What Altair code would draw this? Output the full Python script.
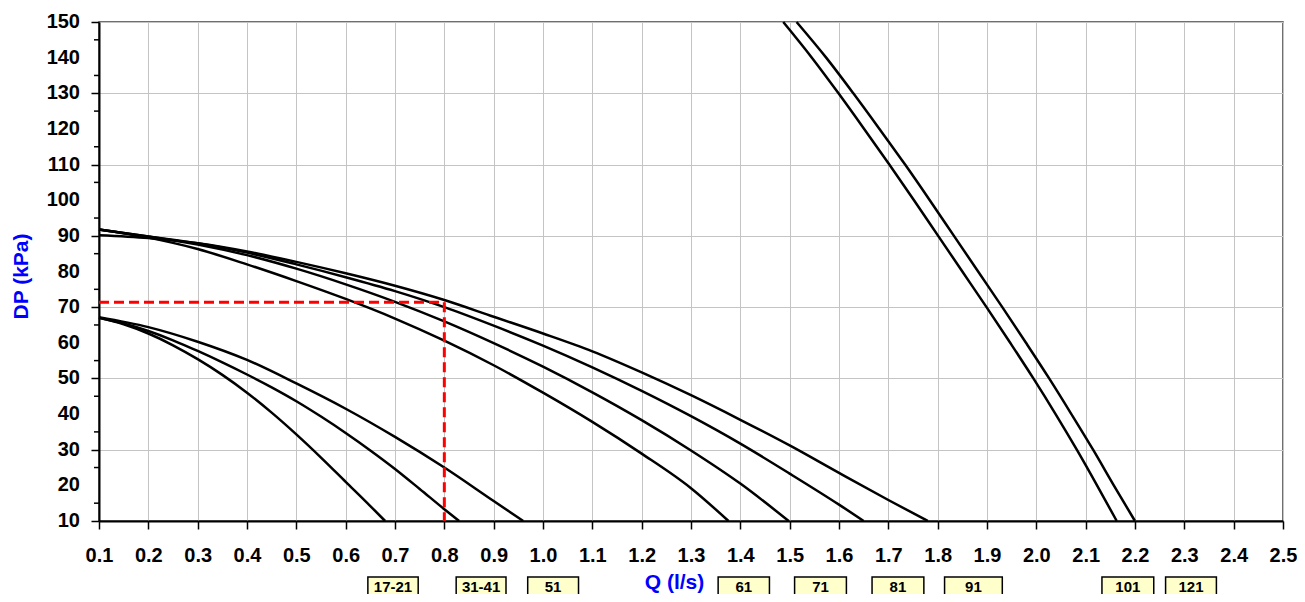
import altair as alt
import pandas as pd

# ---------------- data ----------------
q_1721 = [0.1, 0.15, 0.2, 0.25, 0.3, 0.35, 0.4, 0.45, 0.5, 0.55, 0.6, 0.65, 0.68]
dp_1721 = [67.0, 65.2, 62.6, 59.3, 55.4, 51.0, 46.0, 40.4, 34.3, 27.8, 21.0, 14.2, 10.0]

q_3141 = [0.1, 0.15, 0.2, 0.25, 0.3, 0.35, 0.4, 0.45, 0.5, 0.55, 0.6, 0.65, 0.7, 0.75, 0.8, 0.83]
dp_3141 = [67.0, 65.4, 63.3, 60.7, 57.7, 54.5, 51.1, 47.5, 43.6, 39.3, 34.7, 29.8, 24.6, 19.0, 13.3, 10.0]

q_51 = [0.1, 0.2, 0.3, 0.4, 0.5, 0.6, 0.7, 0.8, 0.9, 0.96]
dp_51 = [67.2, 64.4, 60.3, 55.2, 48.6, 41.5, 33.6, 25.0, 15.6, 10.0]

q_61 = [0.1, 0.2, 0.3, 0.4, 0.5, 0.6, 0.7, 0.8, 0.9, 1.0, 1.1, 1.2, 1.3, 1.376]
dp_61 = [91.8, 89.5, 86.3, 82.0, 77.3, 72.3, 66.8, 60.6, 53.7, 46.0, 37.8, 28.9, 19.2, 10.0]

q_71 = [0.1, 0.2, 0.3, 0.4, 0.5, 0.6, 0.7, 0.8, 0.9, 1.0, 1.1, 1.2, 1.3, 1.4, 1.498]
dp_71 = [91.8, 89.8, 87.6, 84.6, 80.8, 76.4, 71.5, 66.0, 59.9, 53.3, 46.1, 38.3, 29.8, 20.5, 10.0]

q_81 = [0.1, 0.2, 0.3, 0.4, 0.5, 0.6, 0.7, 0.8, 0.9, 1.0, 1.1, 1.2, 1.3, 1.4, 1.5, 1.6, 1.65]
dp_81 = [91.8, 89.8, 87.9, 85.3, 82.0, 78.4, 74.5, 70.0, 64.8, 59.2, 53.1, 46.5, 39.4, 31.7, 23.3, 14.6, 10.0]

q_91 = [0.1, 0.2, 0.3, 0.4, 0.5, 0.6, 0.7, 0.8, 0.9, 1.0, 1.1, 1.2, 1.3, 1.4, 1.5, 1.6, 1.7, 1.78]
dp_91 = [90.2, 89.4, 87.9, 85.6, 82.7, 79.5, 76.0, 72.0, 67.3, 62.6, 57.6, 51.7, 45.3, 38.4, 31.2, 23.5, 15.9, 10.0]

q_101 = [1.487, 1.545, 1.599, 1.651, 1.702, 1.752, 1.801, 1.850, 1.899, 1.947, 1.994, 2.039, 2.082, 2.123, 2.163]
dp_101 = [150, 140, 130, 120, 110, 100, 90, 80, 70, 60, 50, 40, 30, 20, 10]

q_121 = [1.514, 1.574, 1.629, 1.682, 1.734, 1.784, 1.833, 1.882, 1.931, 1.979, 2.026, 2.071, 2.115, 2.157, 2.200]
dp_121 = [150, 140, 130, 120, 110, 100, 90, 80, 70, 60, 50, 40, 30, 20, 10]

# duty point (red dashed guide)
guide_x = [0.1, 0.8]
guide_x2 = [0.8, 0.8]
guide_y = [71.4, 71.4]
guide_y2 = [71.4, 10.0]

# model label boxes under the axis
box_labels = ["17-21", "31-41", "51", "61", "71", "81", "91", "101", "121"]
box_left = [0.645, 0.824, 0.969, 1.355, 1.510, 1.667, 1.814, 2.133, 2.262]
box_right = [0.747, 0.925, 1.072, 1.459, 1.615, 1.772, 1.931, 2.238, 2.365]

x_tick_values = [round(0.1 + 0.05 * i, 2) for i in range(49)]
y_tick_values = list(range(10, 151, 10))
y_tick_labels = [str(v) for v in y_tick_values]
y_minor_values = list(range(15, 150, 10))

# ---------------- tables ----------------
series = [
    ("17-21", q_1721, dp_1721), ("31-41", q_3141, dp_3141), ("51", q_51, dp_51),
    ("61", q_61, dp_61), ("71", q_71, dp_71), ("81", q_81, dp_81), ("91", q_91, dp_91),
    ("101", q_101, dp_101), ("121", q_121, dp_121),
]
rows = []
for name, qs, dps in series:
    for q, dp in zip(qs, dps):
        rows.append({"curve": name, "q": q, "dp": dp})
curves_df = pd.DataFrame(rows)
guide_df = pd.DataFrame({"x": guide_x, "x2": guide_x2, "y": guide_y, "y2": guide_y2})
box_df = pd.DataFrame({"label": box_labels, "l": box_left, "r": box_right,
                       "c": [(a + b) / 2 for a, b in zip(box_left, box_right)]})
minor_df = pd.DataFrame({"v": y_minor_values})
ylab_df = pd.DataFrame({"v": y_tick_values, "t": y_tick_labels})

FONT = "Liberation Sans"
xscale = alt.Scale(domain=[0.1, 2.5], nice=False, zero=False)
yscale = alt.Scale(domain=[10, 150], nice=False, zero=False)

X_MAJOR = "abs(round(datum.value*20)) % 2 == 0"

x_axis = alt.Axis(
    values=x_tick_values,
    labelExpr=X_MAJOR + " ? format(datum.value, '.1f') : ''",
    grid=True, gridColor="#c4c4c4", gridWidth=1,
    tickColor="black", tickWidth=1.5,
    tickSize={"condition": {"test": X_MAJOR, "value": 8}, "value": 5},
    domainColor="black", domainWidth=2,
    labelFont=FONT, labelFontSize=20, labelFontWeight="bold", labelColor="black",
    labelPadding=16, labelOverlap=False, labelFlush=False, labelBound=False,
    title="Q (l/s)", titleFont=FONT, titleFontSize=21, titleFontWeight="bold",
    titleColor="#0000ff", titleX=575, titleY=61, titleAlign="center", titleBaseline="middle",
)
y_axis = alt.Axis(
    values=y_tick_values, labels=False,
    grid=True, gridColor="#c4c4c4", gridWidth=1,
    tickColor="black", tickWidth=1.5, tickSize=8,
    domainColor="black", domainWidth=2,
    title="DP (kPa)", titleFont=FONT, titleFontSize=21, titleFontWeight="bold",
    titleColor="#0000ff", titleX=-78, titleY=254, titleAlign="center", titleBaseline="middle",
)

curves = alt.Chart(curves_df).mark_line(
    interpolate="monotone", color="black", strokeWidth=2.5
).encode(
    x=alt.X("q:Q", scale=xscale, axis=x_axis),
    y=alt.Y("dp:Q", scale=yscale, axis=y_axis),
    detail="curve:N",
)

# minor y ticks (every 5 kPa, outside the left axis)
minor_ticks = alt.Chart(minor_df).mark_rule(color="black", strokeWidth=1.5).encode(
    y=alt.Y("v:Q", scale=yscale),
    x=alt.value(-5),
    x2=alt.value(0),
)

# y tick labels
y_labels = alt.Chart(ylab_df).mark_text(
    font=FONT, fontSize=20, fontWeight="bold", color="black", align="right", baseline="middle"
).encode(
    y=alt.Y("v:Q", scale=yscale),
    x=alt.value(-19),
    text="t:N",
)

guide = alt.Chart(guide_df).mark_rule(
    color="#ff0000", strokeDash=[10, 5], strokeWidth=3
).encode(
    x=alt.X("x:Q", scale=xscale),
    x2="x2:Q",
    y=alt.Y("y:Q", scale=yscale),
    y2="y2:Q",
)

boxes = alt.Chart(box_df).mark_rect(
    fill="#ffffcc", stroke="black", strokeWidth=1.5
).encode(
    x=alt.X("l:Q", scale=xscale),
    x2="r:Q",
    y=alt.value(555),
    y2=alt.value(585),
)

box_text = alt.Chart(box_df).mark_text(
    font=FONT, fontSize=15, fontWeight="bold", color="black", baseline="middle", align="center"
).encode(
    x=alt.X("c:Q", scale=xscale),
    y=alt.value(565),
    text="label:N",
)

chart = alt.layer(curves, minor_ticks, y_labels, guide, boxes, box_text).properties(
    width=1184, height=499,
    autosize=alt.AutoSizeParams(type="none"),
    padding={"left": 91, "top": 14, "right": 14, "bottom": 73},
).configure_view(stroke="#404040", strokeWidth=1.5)

chart.save("out.html", embed_options={"renderer": "svg", "actions": False})
